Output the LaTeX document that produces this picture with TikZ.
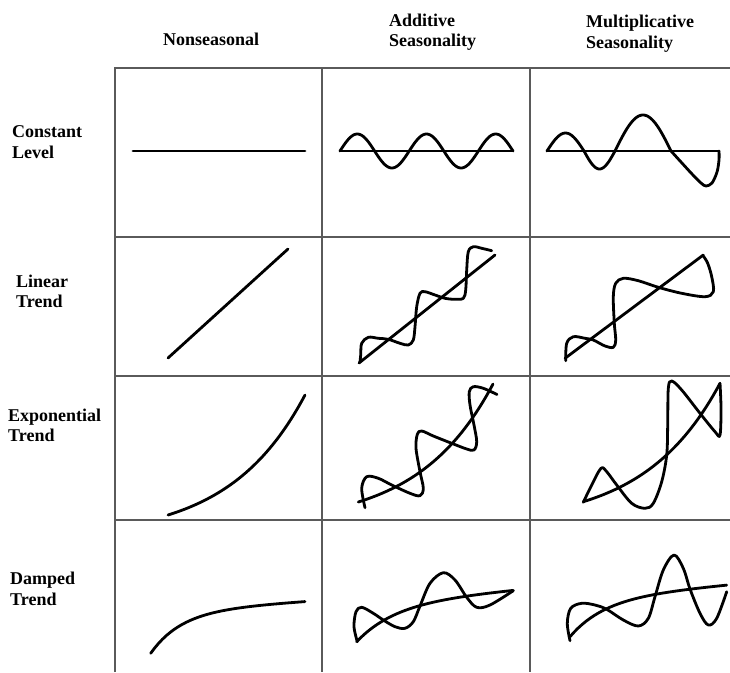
\documentclass[tikz,border=0pt]{standalone}
\usepackage{fontspec}
\setmainfont{Liberation Serif}
\definecolor{gridgray}{RGB}{90,90,90}
\begin{document}
\begin{tikzpicture}[x=1pt,y=-1pt,
  gridline/.style={line width=1.9pt, draw=gridgray},
  curve/.style={line width=2.8pt, line cap=round, line join=round},
  lab/.style={anchor=base west, inner sep=0pt, font=\fontsize{18}{21}\selectfont\bfseries}]
\useasboundingbox (0,0) rectangle (730,672);
\fill[white] (0,0) rectangle (730,672);

% grid
\draw[gridline] (115,672) -- (115,68) -- (730,68);
\draw[gridline] (322,68) -- (322,672);
\draw[gridline] (530,68) -- (530,672);
\draw[gridline] (115,237) -- (730,237);
\draw[gridline] (115,376) -- (730,376);
\draw[gridline] (115,520) -- (730,520);

% headers
\node[lab] (hn) at (163,45) {Nonseasonal};
\node[lab] (ha1) at (389,26) {Additive};
\node[lab] (ha2) at (389,46) {Seasonality};
\node[lab] (hm1) at (586,27) {Multiplicative};
\node[lab] (hm2) at (586,48) {Seasonality};

% row labels
\node[lab] (r1a) at (12,137) {Constant};
\node[lab] (r1b) at (12,158) {Level};
\node[lab] (r2a) at (16,287) {Linear};
\node[lab] (r2b) at (16,307) {Trend};
\node[lab] (r3a) at (8,421) {Exponential};
\node[lab] (r3b) at (8,441) {Trend};
\node[lab] (r4a) at (10,584) {Damped};
\node[lab] (r4b) at (10,605) {Trend};

% ---------- Row 1: constant level
\draw[curve] (133,151) -- (305,151);
\draw[curve] (340,151) -- (513,151);
\draw[curve] plot[domain=0:900, samples=120] ({340+\x*0.19222},{151-17*sin(\x)});
\draw[curve] (547,151) -- (719,151);
\draw[curve] plot[domain=0:180, samples=30] ({547+\x*0.20556},{151-18*sin(\x)});
\draw[curve] plot[domain=0:180, samples=30] ({584+\x*0.17222},{151+18*sin(\x)});
\draw[curve] plot[domain=0:180, samples=40] ({615+\x*0.31111},{151-36*sin(\x)});
\draw[curve] plot[smooth, tension=0.55] coordinates {(671,151) (681,162) (692,174) (701,183) (706,186) (712,183) (717,172) (719,160) (719,151)};

% ---------- Row 2: linear trend
\draw[curve] (168,358) -- (288,249);
\draw[curve] (359,363) -- (495,255);
\draw[curve] plot[smooth, tension=0.55] coordinates {(360,362) (360.7,355) (361.7,343.3) (368.3,337.3) (378.3,338.3) (388.3,339.3) (400,343.3) (408.3,345) (413.3,340) (415,326.7) (416.7,306.7) (420,293.3) (425,291.7) (435,295) (445,298.3) (455,299.3) (463.3,298.3) (465.7,290) (466.7,270) (468.3,251.7) (473.3,246.7) (481.7,248.3) (491.7,250.7)};
\draw[curve] (565,358.3) -- (703.3,255);
\draw[curve] plot[smooth, tension=0.55] coordinates {(565.7,360.7) (566.7,343.3) (573.3,336.7) (585,338.3) (593.3,340) (605,346) (613.3,347.3) (615.7,340) (614.3,323.3) (613.3,296.7) (615.7,283.3) (623.3,278.3) (638.3,280.7) (658.3,287.3) (681.7,293.3) (705,296.7) (713.3,291.7) (711.7,276.7) (707.7,263.3) (703.3,256)};

% ---------- Row 3: exponential trend
\draw[curve] plot[domain=0:1, samples=40] ({168+137*\x},{515-120*(exp(1.8*\x)-1)/5.0496});
\draw[curve] plot[domain=0:1, samples=40] ({358.3+134.7*\x},{502-118*(exp(1.8*\x)-1)/5.0496});
\draw[curve] plot[smooth, tension=0.55] coordinates {(365,507.7) (361.7,488.3) (366.7,476.7) (378.3,478.3) (391.7,485) (410,493.3) (420,495.7) (423.3,488.3) (420,471.7) (416,448.3) (417.3,434.3) (421.7,431) (433.3,436) (451.7,443.3) (466.7,449) (474,450) (476.7,441.7) (474,425) (470,405) (469.3,391.7) (473.3,386.7) (483.3,388.3) (497,394.5)};
\draw[curve] plot[domain=0:1, samples=40] ({583.3+136.7*\x},{501.7-118.4*(exp(1.8*\x)-1)/5.0496});
\draw[curve] plot[smooth, tension=0.55] coordinates {(583.3,502.3) (591.7,485) (601,468.3) (606.7,471.7) (616.7,485) (631.7,503.3) (645,508.3) (653.3,503.3) (661.7,481.7) (666.7,455) (667.7,425) (668.3,388.3) (671.7,381) (681.7,390) (700,413.3) (715,431.7) (720,435) (721,408.3) (720,383.3)};

% ---------- Row 4: damped trend
\draw[curve] plot[domain=0:1, samples=40] ({150.7+154.3*\x},{653.3-42*(1-exp(-5*\x))-10*\x});
\draw[curve] plot[domain=0:1, samples=40] ({356.7+156.6*\x},{641.7-38*(1-exp(-4*\x))-14*\x});
\draw[curve] plot[smooth, tension=0.55] coordinates {(357.3,641.7) (354,626.7) (356,611.7) (361.7,607.3) (373.3,613.3) (383.3,620) (395,626.7) (405,628.3) (413.3,621.7) (420,606) (430,583.3) (443.3,572.7) (455,580) (466.7,597.3) (476.7,607.3) (490,605) (513.3,590.7)};
\draw[curve] plot[domain=0:1, samples=40] ({570+156.7*\x},{636.7-38*(1-exp(-4.5*\x))-14*\x});
\draw[curve] plot[smooth, tension=0.55] coordinates {(570,640.7) (567.3,623.3) (570.7,608.3) (581.7,603.3) (595,605) (606.7,609.3) (623.3,620) (638.3,626) (648.3,618.3) (655,596.7) (663.3,570) (674,555) (683.3,568.3) (690,589) (700,613.3) (708.3,625) (716.7,618.3) (726.7,591.7)};
\end{tikzpicture}
\end{document}
